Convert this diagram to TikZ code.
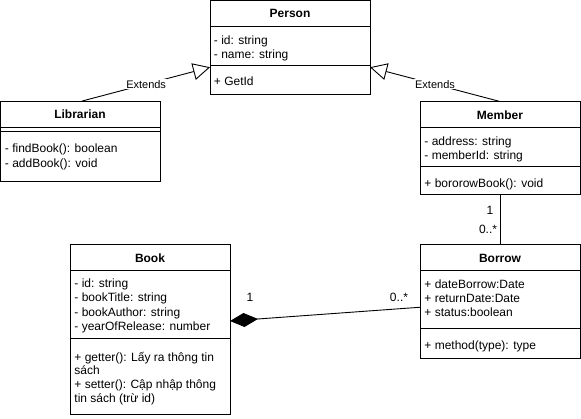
\documentclass[tikz,border=0pt]{standalone}
\usepackage{fontspec}
\setmainfont{Liberation Sans}
\usetikzlibrary{arrows.meta}
\begin{document}
\begin{tikzpicture}[x=1pt,y=-1pt,line width=0.9pt,
  cls/.style={draw,anchor=north west,inner sep=0pt,outer sep=0pt},
  ttl/.style={anchor=base,inner sep=0pt,font=\fontsize{12}{14}\selectfont\bfseries},
  txt/.style={anchor=base west,inner sep=0pt,font=\fontsize{12}{14}\selectfont},
  lbl/.style={font=\fontsize{11}{13}\selectfont,fill=white,inner sep=1pt},
  mult/.style={anchor=base,inner sep=0pt,font=\fontsize{12}{14}\selectfont},
  inh/.style={-{Triangle[length=17pt,width=17pt,fill=white]}},
  comp/.style={-{Diamond[length=28pt,width=14pt,fill=black]}}]
\useasboundingbox (0,0) rectangle (581,418);

% Person
\node[cls,minimum width=160pt,minimum height=93.5pt] (person) at (210,0.5) {};
\draw ([yshift=-25.5pt]person.north west) -- ([yshift=-25.5pt]person.north east);
\draw ([yshift=-64.5pt]person.north west) -- ([yshift=-64.5pt]person.north east);
\node[ttl] (personT) at (290,17.5) {Person};
\node[txt] (p1) at (213.5,44) {- id: string};
\node[txt] (p2) at (213.5,58) {- name: string};
\node[txt] (p3) at (213.5,85) {+ GetId};

% Librarian
\node[cls,minimum width=159.5pt,minimum height=80pt] (librarian) at (0.5,101) {};
\draw ([yshift=-26pt]librarian.north west) -- ([yshift=-26pt]librarian.north east);
\draw ([yshift=-30pt]librarian.north west) -- ([yshift=-30pt]librarian.north east);
\node[ttl] (libT) at (80,118.5) {Librarian};
\node[txt] (l1) at (4.5,152.5) {- findBook(): boolean};
\node[txt] (l2) at (4.5,167) {- addBook(): void};

% Member
\node[cls,minimum width=160pt,minimum height=92.5pt] (member) at (420,101.5) {};
\draw ([yshift=-26pt]member.north west) -- ([yshift=-26pt]member.north east);
\draw ([yshift=-65pt]member.north west) -- ([yshift=-65pt]member.north east);
\node[ttl] (memT) at (500,119) {Member};
\node[txt] (m1) at (424,145) {- address: string};
\node[txt] (m2) at (424,159) {- memberId: string};
\node[txt] (m3) at (424,187) {+ bororowBook(): void};

% Borrow
\node[cls,minimum width=160pt,minimum height=114.5pt] (borrow) at (420,244) {};
\draw ([yshift=-26.5pt]borrow.north west) -- ([yshift=-26.5pt]borrow.north east);
\draw ([yshift=-84pt]borrow.north west) -- ([yshift=-84pt]borrow.north east);
\node[ttl] (borT) at (500,262) {Borrow};
\node[txt] (b1) at (424,288) {+ dateBorrow:Date};
\node[txt] (b2) at (424,302) {+ returnDate:Date};
\node[txt] (b3) at (424,316.5) {+ status:boolean};
\node[txt] (b4) at (424,349.5) {+ method(type): type};

% Book
\node[cls,minimum width=160pt,minimum height=170pt] (book) at (70,244) {};
\draw ([yshift=-26.5pt]book.north west) -- ([yshift=-26.5pt]book.north east);
\draw ([yshift=-94pt]book.north west) -- ([yshift=-94pt]book.north east);
\node[ttl] (bookT) at (150,262) {Book};
\node[txt] (k1) at (74,287) {- id: string};
\node[txt] (k2) at (74,301.5) {- bookTitle: string};
\node[txt] (k3) at (74,316) {- bookAuthor: string};
\node[txt] (k4) at (74,330.5) {- yearOfRelease: number};
\node[txt] (k5) at (74,361) {+ getter(): Lấy ra thông tin};
\node[txt] (k6) at (74,374.5) {sách};
\node[txt] (k7) at (74,388.5) {+ setter(): Cập nhập thông};
\node[txt] (k8) at (74,402) {tin sách (trừ id)};

% Inheritance
\draw[inh] ([xshift=2pt]librarian.north) -- ([yshift=-20pt]person.west)
  node[lbl,midway] {Extends};
\draw[inh] (member.north) -- ([yshift=-20pt]person.east)
  node[lbl,midway] {Extends};

% Member - Borrow
\draw (member.south) -- (borrow.north);
\node[mult] (mb1) at (490,214) {1};
\node[mult] (mb2) at (488,233) {0..*};

% Composition
\draw[comp] ([yshift=-6pt]borrow.west) -- ([yshift=8pt]book.east);
\node[mult] (c1) at (250,301) {1};
\node[mult] (c2) at (399,301) {0..*};
\end{tikzpicture}
\end{document}
